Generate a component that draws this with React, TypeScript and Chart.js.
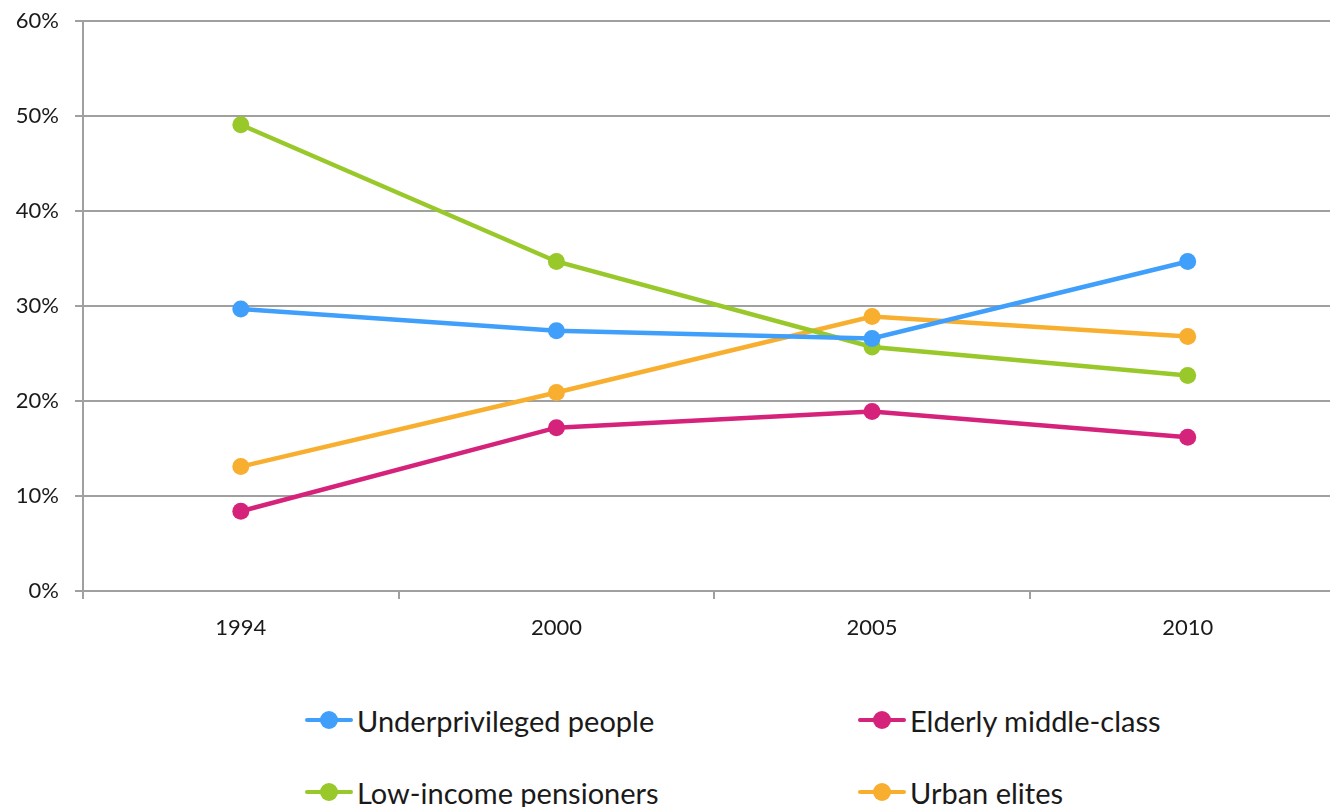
import React, { useEffect, useRef } from "react";
import { Chart, registerables } from "chart.js";

Chart.register(...registerables);

const years = ["1994", "2000", "2005", "2010"];
const underprivileged = [29.7, 27.4, 26.6, 34.7];
const elderlyMiddle = [8.4, 17.2, 18.9, 16.2];
const lowIncome = [49.1, 34.7, 25.7, 22.7];
const urbanElites = [13.1, 20.9, 28.9, 26.8];
const yTicks = [0, 10, 20, 30, 40, 50, 60];

const seriesNames = ["Underprivileged people", "Elderly middle-class", "Low-income pensioners", "Urban elites"];
const seriesColors = ["#3f9ffb", "#d5237c", "#98c82a", "#f8ae2f"];
const seriesData = [underprivileged, elderlyMiddle, lowIncome, urbanElites];

const FONT = "Lato, 'Open Sans', sans-serif";

export default function App() {
  const ref = useRef<HTMLCanvasElement | null>(null);

  useEffect(() => {
    document.body.style.margin = "0";
    const canvas = ref.current;
    if (!canvas) return;
    const chart = new Chart(canvas, {
      type: "line",
      data: {
        labels: years,
        datasets: seriesNames.map((name, i) => ({
          label: name,
          data: seriesData[i],
          borderColor: seriesColors[i],
          backgroundColor: seriesColors[i],
          borderWidth: 4.5,
          pointRadius: 8.5,
          pointBorderWidth: 0,
          pointBackgroundColor: seriesColors[i],
          tension: 0,
        })),
      },
      options: {
        animation: false,
        responsive: false,
        maintainAspectRatio: false,
        layout: { padding: { top: 12, right: 4, left: 0, bottom: 0 } },
        plugins: { legend: { display: false }, tooltip: { enabled: false } },
        scales: {
          x: {
            offset: true,
            grid: {
              display: true,
              offset: true,
              drawOnChartArea: false,
              drawTicks: true,
              tickLength: 8,
              color: "#a0a0a0",
              lineWidth: 2,
            },
            border: { display: true, color: "#a0a0a0", width: 2 },
            ticks: {
              color: "#1a1a1a",
              font: { family: FONT, size: 22 },
              padding: 16,
            },
            afterFit: (scale: any) => {
              scale.height = 69;
            },
          },
          y: {
            min: 0,
            max: 60,
            afterBuildTicks: (scale: any) => {
              scale.ticks = yTicks.map((v) => ({ value: v }));
            },
            grid: {
              color: "#a0a0a0",
              lineWidth: 2,
              drawTicks: true,
              tickLength: 8,
            },
            border: { display: true, color: "#a0a0a0", width: 2 },
            ticks: {
              color: "#1a1a1a",
              font: { family: FONT, size: 22 },
              padding: 16,
              callback: (v: any) => `${v}%`,
            },
            afterFit: (scale: any) => {
              scale.width = 83;
            },
          },
        },
      },
    });
    return () => chart.destroy();
  }, []);

  const legendPos = [
    { x: 305, y: 720 },
    { x: 858, y: 720 },
    { x: 305, y: 792 },
    { x: 858, y: 792 },
  ];

  return (
    <div style={{ position: "relative", width: 1330, height: 807, overflow: "hidden", background: "#fff" }}>
      <canvas ref={ref} width={1354} height={668} style={{ position: "absolute", left: 0, top: -8, width: 1354, height: 668 }} />
      {seriesNames.map((name, i) => (
        <div
          key={name}
          style={{
            position: "absolute",
            left: legendPos[i].x,
            top: legendPos[i].y - 20,
            height: 40,
            display: "flex",
            alignItems: "center",
            fontFamily: FONT,
            fontSize: 29,
            color: "#1a1a1a",
            whiteSpace: "nowrap",
          }}
        >
          <span style={{ position: "relative", width: 48, height: 18, marginRight: 4, display: "inline-block" }}>
            <span style={{ position: "absolute", left: 0, top: 7, width: 48, height: 4, background: seriesColors[i], borderRadius: 2 }} />
            <span style={{ position: "absolute", left: 15, top: 0, width: 18, height: 18, background: seriesColors[i], borderRadius: "50%" }} />
          </span>
          <span>{name}</span>
        </div>
      ))}
    </div>
  );
}
